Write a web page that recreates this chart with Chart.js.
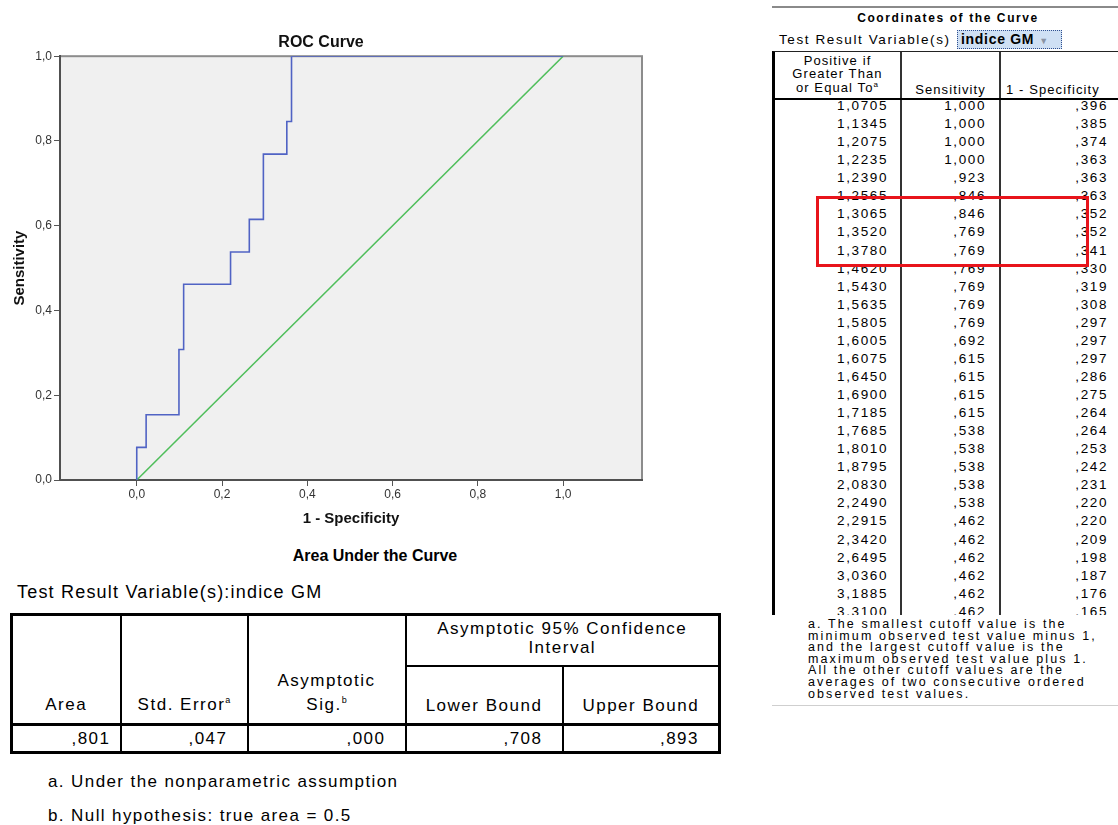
<!DOCTYPE html>
<html>
<head>
<meta charset="utf-8">
<title>ROC Curve</title>
<script src="https://cdn.jsdelivr.net/npm/chart.js@4.4.1/dist/chart.umd.min.js"></script>
<style>
html, body { margin: 0; padding: 0; }
body {
  width: 1118px; height: 825px; position: relative; overflow: hidden;
  background: #fff; color: #000;
  font-family: "Liberation Sans", Arial, Helvetica, sans-serif;
}
.abs { position: absolute; }
sup { line-height: 0; }
#chartBox { left: 0; top: 0; width: 650px; height: 540px; }

/* coordinates of the curve */
#topRule { left: 772px; top: 6px; width: 346px; height: 2px; background: #8a8a8a; }
#coordTitle { left: 772px; top: 11px; width: 352px; text-align: center; font-weight: bold; font-size: 12px; letter-spacing: 1.6px; }
#coordVar { left: 779px; top: 32px; font-size: 13.5px; letter-spacing: 1.6px; }
#coordDrop { left: 957px; top: 30px; width: 100px; height: 17px; background: #cfe0f4; border: 1px dotted #2f4f8f;
  font-size: 14px; font-weight: bold; line-height: 17px; padding-left: 3px; box-sizing: content-box; letter-spacing: 0.7px; }
#coordDrop span { color: #8a93a3; font-size: 9px; margin-left: 5px; }
#coordWrap { left: 772px; top: 51px; width: 346px; height: 564px; overflow: hidden;
  border-left: 3px solid #000; border-top: 1px solid #222; box-sizing: border-box; }
#coordWrap table { border-collapse: collapse; table-layout: fixed; width: 360px; }
#coordHead th { height: 42px; vertical-align: bottom; font-weight: normal; font-size: 13px; line-height: 13.5px;
  letter-spacing: 1.1px; border-right: 2px solid #333; border-bottom: 2px solid #000; padding: 0 0 2px 0; text-align: center; }
#coordHead th.first { padding-bottom: 4px; }
#coordHead th:last-child, #coordTable td:last-child { border-right: none; }
#coordBody { height: 520px; overflow: hidden; }
#coordTable { margin-top: -3px; }
#coordTable td { height: 18.07px; padding: 0; font-size: 13.5px; letter-spacing: 1.6px; text-align: right;
  border-right: 2px solid #333; line-height: 18px; }
#coordTable td.a { padding-right: 12px; }
#coordTable td.b { padding-right: 13px; }
#coordTable td.c { padding-right: 27px; }
#redBox { left: 816px; top: 196px; width: 273px; height: 71px; border: 3px solid #e8141b; box-sizing: border-box; }
#coordNote { left: 808px; top: 619px; width: 330px; font-size: 12.5px; line-height: 11.6px; letter-spacing: 2.1px; }
#bottomRule { left: 772px; top: 705px; width: 346px; height: 1px; background: #cfcfcf; }

/* area under the curve */
#aucTitle { left: 200px; top: 547px; width: 350px; text-align: center; font-weight: bold; font-size: 16px; }
#aucVar { left: 17px; top: 582px; font-size: 18px; letter-spacing: 1.2px; }
#aucTable { left: 10px; top: 613px; border-collapse: collapse; table-layout: fixed; width: 708px; border: 3px solid #000; }
#aucTable th, #aucTable td { border: 2px solid #000; font-size: 17px; font-weight: normal; padding: 0; letter-spacing: 1.5px; }
#aucTable th { text-align: center; vertical-align: bottom; }
#aucTable tr.h1 th.ci { height: 46px; vertical-align: top; padding-top: 3px; line-height: 19px; }
#aucTable tr.h1 th.rs { line-height: 24px; padding-bottom: 6px; }
#aucTable tr.h2 th { height: 50px; line-height: 22px; padding-bottom: 6px; }
#aucTable td { height: 25px; text-align: right; padding-right: 19px; border-top: 3px solid #000; }
#aucTable td:first-child { padding-right: 9px; }
#aucTable sup { font-size: 9px; letter-spacing: 0; }
.note { left: 48px; font-size: 17px; letter-spacing: 1.4px; }
</style>
</head>
<body>

<div id="chartBox" class="abs"><canvas id="rocChart" width="650" height="540"></canvas></div>

<div id="topRule" class="abs"></div>
<div id="coordTitle" class="abs">Coordinates of the Curve</div>
<div id="coordVar" class="abs">Test Result Variable(s)</div>
<div id="coordDrop" class="abs">indice GM<span>&#9660;</span></div>
<div id="coordWrap" class="abs">
  <table id="coordHead">
    <colgroup><col style="width:126px"><col style="width:99px"><col style="width:135px"></colgroup>
    <tr><th class="first">Positive if<br>Greater Than<br>or Equal To<sup style="font-size:8px">a</sup></th><th>Sensitivity</th><th style="text-align:left;padding-left:5px">1 - Specificity</th></tr>
  </table>
  <div id="coordBody">
    <table id="coordTable">
      <colgroup><col style="width:126px"><col style="width:99px"><col style="width:135px"></colgroup>
      <tbody></tbody>
    </table>
  </div>
</div>
<div id="redBox" class="abs"></div>
<div id="coordNote" class="abs">a. The smallest cutoff value is the<br>minimum observed test value minus 1,<br>and the largest cutoff value is the<br>maximum observed test value plus 1.<br>All the other cutoff values are the<br>averages of two consecutive ordered<br>observed test values.</div>
<div id="bottomRule" class="abs"></div>

<div id="aucTitle" class="abs">Area Under the Curve</div>
<div id="aucVar" class="abs">Test Result Variable(s):indice GM</div>
<table id="aucTable" class="abs">
  <colgroup><col style="width:109px"><col style="width:127px"><col style="width:158px"><col style="width:157px"><col style="width:157px"></colgroup>
  <tr class="h1">
    <th rowspan="2" class="rs">Area</th>
    <th rowspan="2" class="rs">Std. Error<sup>a</sup></th>
    <th rowspan="2" class="rs">Asymptotic<br>Sig.<sup>b</sup></th>
    <th colspan="2" class="ci">Asymptotic 95% Confidence<br>Interval</th>
  </tr>
  <tr class="h2"><th>Lower Bound</th><th>Upper Bound</th></tr>
  <tr id="aucRow"></tr>
</table>
<div class="abs note" style="top:772px">a. Under the nonparametric assumption</div>
<div class="abs note" style="top:806px">b. Null hypothesis: true area = 0.5</div>

<script>
'use strict'

// ROC curve corners: 1 - specificity and sensitivity
const fpr = [0, 0.022, 0.099, 0.110, 0.220, 0.264, 0.297, 0.352, 0.363, 1.000];
const tpr = [0, 0.077, 0.154, 0.308, 0.462, 0.538, 0.615, 0.769, 0.846, 1.000];

// diagonal reference line
const refX = [0, 1];
const refY = [0, 1];

// tick labels of both axes
const axisTicks = [0, 0.2, 0.4, 0.6, 0.8, 1.0];

// Coordinates of the Curve table
const cutoffs = [1.0705, 1.1345, 1.2075, 1.2235, 1.2390, 1.2565, 1.3065, 1.3520, 1.3780, 1.4620,
  1.5430, 1.5635, 1.5805, 1.6005, 1.6075, 1.6450, 1.6900, 1.7185, 1.7685, 1.8010,
  1.8795, 2.0830, 2.2490, 2.2915, 2.3420, 2.6495, 3.0360, 3.1885, 3.3100];
const sensitivity = [1.000, 1.000, 1.000, 1.000, 0.923, 0.846, 0.846, 0.769, 0.769, 0.769,
  0.769, 0.769, 0.769, 0.692, 0.615, 0.615, 0.615, 0.615, 0.538, 0.538,
  0.538, 0.538, 0.538, 0.462, 0.462, 0.462, 0.462, 0.462, 0.462];
const oneMinusSpec = [0.396, 0.385, 0.374, 0.363, 0.363, 0.363, 0.352, 0.352, 0.341, 0.330,
  0.319, 0.308, 0.297, 0.297, 0.297, 0.286, 0.275, 0.264, 0.264, 0.253,
  0.242, 0.231, 0.220, 0.220, 0.209, 0.198, 0.187, 0.176, 0.165];

// Area Under the Curve table: area, std. error, sig., lower, upper
const aucValues = [0.801, 0.047, 0.000, 0.708, 0.893];

// SPSS style numbers: comma decimal, no leading zero
function spssNum(v, digits) {
  let s = v.toFixed(digits).replace('.', ',');
  if (v < 1) {
    s = s.slice(1);
  }
  return s;
}

// fill the tables
const coordBody = document.querySelector('#coordTable tbody');
for (let i = 0; i < cutoffs.length; i++) {
  let tr = document.createElement('tr');
  tr.innerHTML = `<td class="a">${spssNum(cutoffs[i], 4)}</td><td class="b">${spssNum(sensitivity[i], 3)}</td><td class="c">${spssNum(oneMinusSpec[i], 3)}</td>`;
  coordBody.appendChild(tr);
}
const aucRow = document.getElementById('aucRow');
for (let i = 0; i < aucValues.length; i++) {
  let td = document.createElement('td');
  td.textContent = spssNum(aucValues[i], 3);
  aucRow.appendChild(td);
}

// grey plot area with a light frame
const plotBackground = {
  id: 'plotBackground',
  beforeDraw(chart) {
    const {ctx, chartArea: a} = chart;
    ctx.save();
    ctx.fillStyle = '#f0f0f0';
    ctx.fillRect(a.left, a.top, a.width, a.height);
    ctx.strokeStyle = '#8c8c8c';
    ctx.lineWidth = 2;
    ctx.strokeRect(a.left, a.top, a.width, a.height);
    ctx.restore();
  }
};

Chart.defaults.font.family = '"Liberation Sans", Arial, sans-serif';

const commaLabel = v => v.toFixed(1).replace('.', ',');

new Chart(document.getElementById('rocChart'), {
  type: 'line',
  data: {
    datasets: [{
      label: 'ROC',
      data: fpr.map((x, i) => ({x: x, y: tpr[i]})),
      borderColor: '#5063c4',
      borderWidth: 1.6,
      pointRadius: 0,
      stepped: 'after',
      fill: false
    },
    {
      label: 'Reference Line',
      data: refX.map((x, i) => ({x: x, y: refY[i]})),
      borderColor: '#4fbe5b',
      borderWidth: 1.5,
      pointRadius: 0,
      fill: false
    }]
  },
  options: {
    responsive: false,
    animation: false,
    layout: { padding: { left: 0, right: 8, top: 0, bottom: 0 } },
    plugins: {
      legend: { display: false },
      tooltip: { enabled: false },
      title: {
        display: true,
        text: 'ROC Curve',
        color: '#111',
        font: { size: 16, weight: 'bold' },
        padding: { top: 33, bottom: 4 }
      }
    },
    scales: {
      x: {
        type: 'linear',
        min: -0.18,
        max: 1.185,
        afterBuildTicks: s => { s.ticks = axisTicks.map(v => ({value: v})); },
        afterFit: s => { s.height = 60; },
        ticks: { callback: commaLabel, color: '#333', font: { size: 12 }, padding: 1, maxRotation: 0, autoSkip: false },
        grid: { drawOnChartArea: false, drawTicks: true, tickLength: 6, color: '#555' },
        border: { display: true, color: '#505050', width: 2 },
        title: { display: true, text: '1 - Specificity', color: '#111', font: { size: 15, weight: 'bold' }, padding: { top: 0, bottom: 12 } }
      },
      y: {
        type: 'linear',
        min: 0,
        max: 1,
        afterBuildTicks: s => { s.ticks = axisTicks.map(v => ({value: v})); },
        afterFit: s => { s.width = 60; },
        ticks: { callback: commaLabel, color: '#333', font: { size: 12 }, padding: 2, autoSkip: false },
        grid: { drawOnChartArea: false, drawTicks: true, tickLength: 6, color: '#555' },
        border: { display: true, color: '#505050', width: 2 },
        title: { display: true, text: 'Sensitivity', color: '#111', font: { size: 15, weight: 'bold' }, padding: { top: 11, bottom: 0 } }
      }
    }
  },
  plugins: [plotBackground]
});
</script>
</body>
</html>
